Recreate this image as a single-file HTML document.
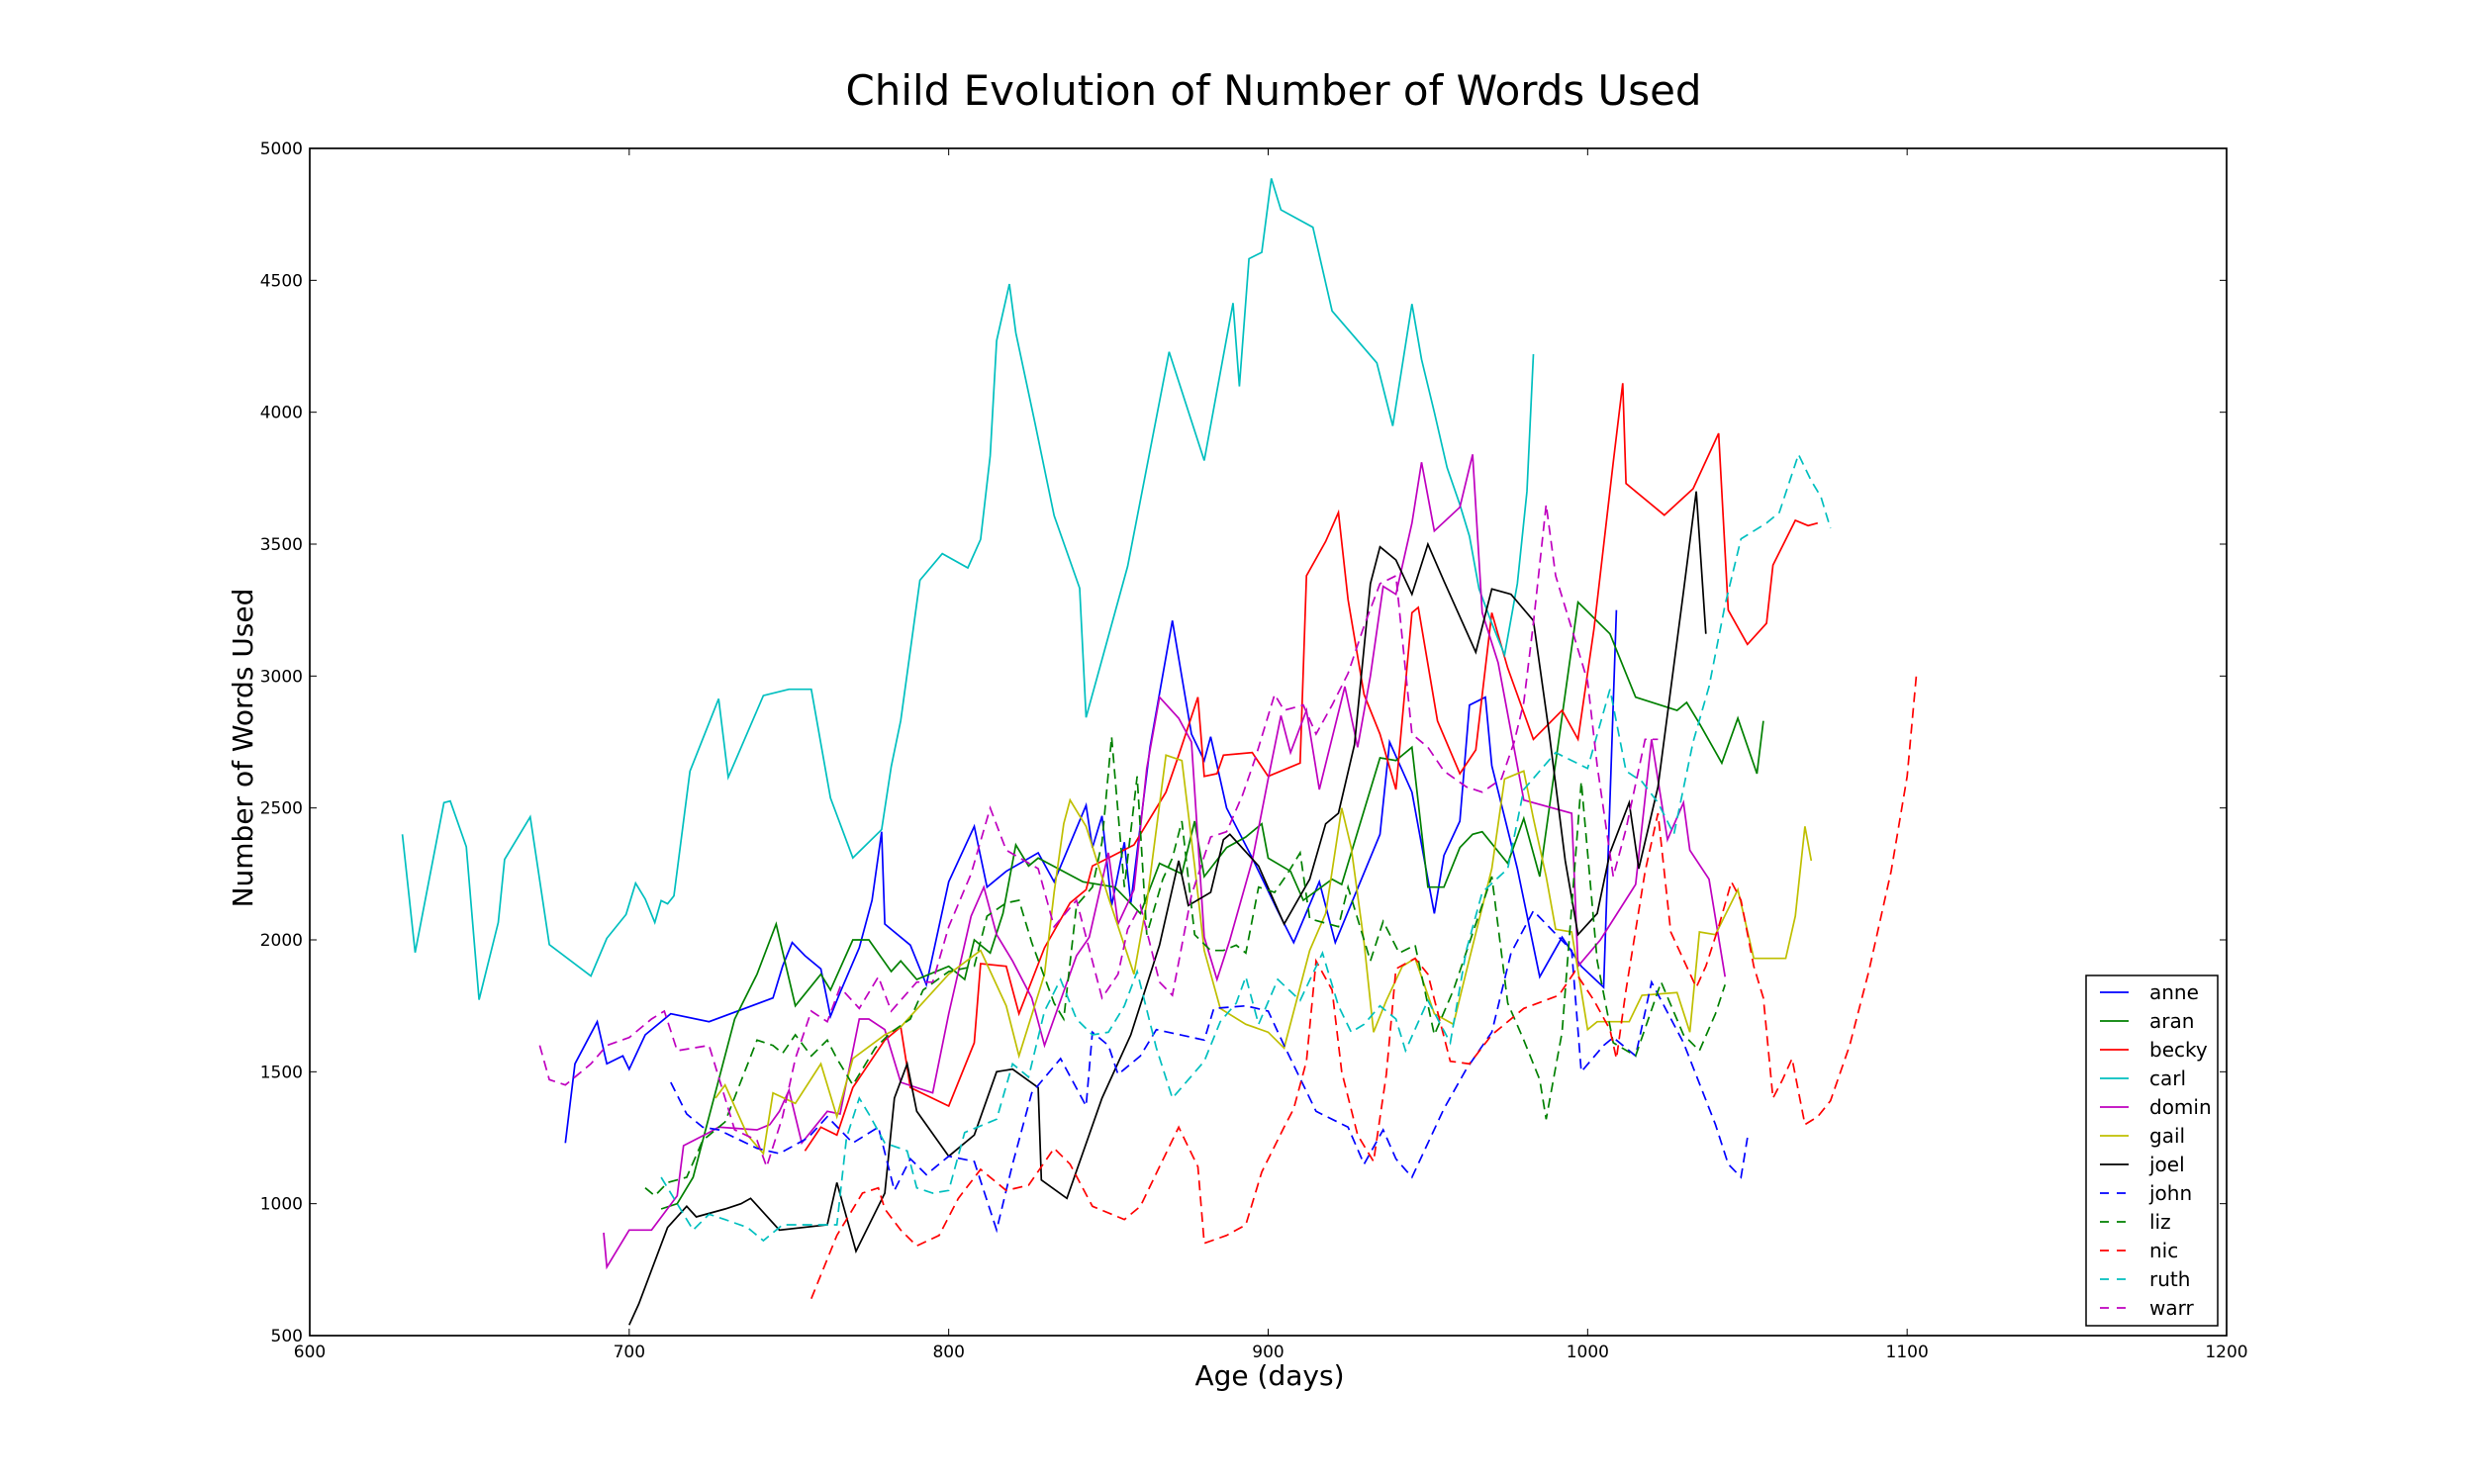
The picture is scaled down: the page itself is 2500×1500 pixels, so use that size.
<!DOCTYPE html>
<html><head><meta charset="utf-8"><style>
html,body{margin:0;padding:0;background:#fff;}
svg{display:block;font-family:"DejaVu Sans","Liberation Sans",sans-serif;}
</style></head><body>
<svg id="chart" width="2500" height="1500" viewBox="0 0 2500 1500">
<rect x="0" y="0" width="2500" height="1500" fill="#fff"/>
<text x="1287" y="106" font-size="42" text-anchor="middle" textLength="865" lengthAdjust="spacingAndGlyphs">Child Evolution of Number of Words Used</text>
<text x="1283" y="1400" font-size="28" text-anchor="middle">Age (days)</text>
<text x="255" y="756" font-size="28" text-anchor="middle" transform="rotate(-90 255 756)">Number of Words Used</text>
<g id="plot"></g>
<g id="axes"></g>
<g id="legend"></g>
</svg>
<script>
const xTicks=[600,700,800,900,1000,1100,1200];
const yTicks=[500,1000,1500,2000,2500,3000,3500,4000,4500,5000];
const names=["anne","aran","becky","carl","domin","gail","joel","john","liz","nic","ruth","warr"];
const colors=["#0000ff","#008000","#ff0000","#00bfbf","#bf00bf","#bfbf00","#000000","#0000ff","#008000","#ff0000","#00bfbf","#bf00bf"];
const dashed=[false,false,false,false,false,false,false,true,true,true,true,true];

const anneAge=[680,683,690,693,698,700,705,713,725,745,748,751,755,760,763,766,772,776,779,780,788,793,800,808,812,818,828,833,843,845,848,851,855,857,863,870,876,880,882,887,895,903,908,916,921,935,938,945,950,952,955,960,963,968,970,978,985,992,998,1005,1009];
const anneVal=[1230,1530,1690,1530,1560,1510,1640,1720,1690,1780,1900,1990,1940,1890,1710,1800,1970,2150,2410,2060,1980,1830,2220,2430,2200,2260,2330,2220,2510,2350,2470,2130,2370,2140,2730,3210,2780,2680,2770,2500,2310,2110,1990,2220,1990,2400,2750,2560,2230,2100,2320,2450,2890,2920,2660,2270,1860,2010,1900,1820,3250];
const aranAge=[710,715,720,733,740,746,752,760,763,770,775,782,785,790,800,805,808,813,817,821,825,828,842,852,860,866,873,877,880,887,893,898,900,907,911,920,923,935,940,945,950,955,960,964,967,975,980,985,997,1007,1015,1028,1031,1035,1042,1047,1053,1055];
const aranVal=[980,1000,1100,1700,1870,2060,1750,1870,1810,2000,2000,1880,1920,1850,1900,1850,2000,1950,2100,2360,2280,2310,2220,2200,2100,2290,2250,2450,2240,2350,2390,2440,2310,2260,2150,2230,2210,2690,2680,2730,2200,2200,2350,2400,2410,2290,2460,2240,3280,3160,2920,2870,2900,2820,2670,2840,2630,2830];
const beckyAge=[755,760,765,770,780,785,788,800,808,810,818,822,830,838,843,845,850,858,868,872,878,880,884,886,895,900,910,912,918,922,925,930,935,940,945,947,953,960,965,970,975,983,992,997,1002,1008,1011,1012,1024,1033,1041,1044,1050,1056,1058,1065,1069,1072];
const beckyVal=[1200,1290,1260,1440,1620,1670,1440,1370,1610,1910,1900,1720,1970,2140,2190,2280,2310,2360,2560,2700,2920,2620,2630,2700,2710,2620,2670,3380,3510,3620,3290,2930,2780,2570,3240,3260,2830,2630,2720,3240,3030,2760,2870,2760,3180,3810,4110,3730,3610,3710,3920,3250,3120,3200,3420,3590,3570,3580];
const carlAge=[629,633,642,644,649,653,659,661,669,675,688,693,699,702,705,708,710,712,714,719,728,731,742,750,757,763,770,779,782,785,791,798,806,810,813,815,819,821,827,833,841,843,856,869,880,889,891,894,898,901,904,914,920,934,939,945,948,952,956,960,963,966,970,974,978,981,983];
const carlVal=[2400,1952,2520,2526,2353,1773,2066,2305,2466,1982,1863,2006,2096,2215,2155,2066,2149,2137,2167,2639,2914,2616,2926,2950,2950,2538,2311,2418,2657,2831,3363,3464,3410,3518,3835,4271,4486,4301,3960,3608,3333,2843,3416,4229,3817,4414,4098,4582,4606,4886,4767,4701,4384,4187,3948,4410,4200,4000,3790,3650,3530,3330,3200,3080,3350,3700,4220];
const dominAge=[692,693,700,707,715,717,725,728,740,744,747,750,754,762,766,772,775,780,785,795,800,807,811,815,820,826,830,840,844,850,853,858,862,866,872,876,880,884,888,895,900,904,907,912,916,924,928,932,936,940,945,948,952,960,964,967,972,980,995,997,1004,1015,1020,1025,1030,1032,1038,1043];
const dominVal=[890,760,900,900,1030,1220,1270,1290,1280,1300,1350,1430,1230,1350,1340,1700,1700,1660,1460,1420,1720,2090,2200,2020,1920,1780,1600,1940,2010,2330,2060,2190,2650,2920,2840,2750,2010,1850,2000,2300,2610,2850,2710,2870,2570,2960,2730,3000,3340,3310,3580,3810,3550,3640,3840,3240,3050,2530,2480,1900,2000,2210,2760,2380,2520,2340,2230,1860];
const gailAge=[727,730,737,742,745,752,760,765,770,780,785,800,810,818,822,830,833,836,838,843,850,858,862,868,873,877,880,885,893,900,905,913,918,923,926,930,933,937,942,946,952,958,962,970,974,980,983,987,990,995,1000,1003,1013,1017,1028,1032,1035,1040,1047,1052,1062,1065,1068,1070];
const gailVal=[1400,1450,1260,1190,1420,1380,1530,1330,1550,1640,1670,1870,1960,1750,1560,1870,2180,2440,2530,2430,2160,1870,2140,2700,2680,2280,1960,1740,1680,1650,1590,1960,2100,2500,2350,1990,1650,1770,1900,1930,1720,1680,1880,2270,2610,2640,2460,2240,2040,2030,1660,1690,1690,1790,1800,1650,2030,2020,2190,1930,1930,2090,2430,2300];
const joelAge=[700,703,712,718,721,730,735,738,747,762,765,771,780,783,787,790,800,808,815,820,828,829,837,848,857,866,872,875,882,886,888,897,905,913,918,922,927,932,935,940,945,950,955,965,970,976,983,988,993,997,1003,1007,1013,1016,1022,1030,1034,1037];
const joelVal=[540,620,910,990,950,980,1000,1020,900,920,1080,820,1040,1400,1530,1350,1180,1260,1500,1510,1440,1090,1020,1400,1640,1980,2300,2130,2180,2380,2400,2280,2060,2230,2440,2480,2740,3350,3490,3440,3310,3500,3360,3090,3330,3310,3210,2780,2300,2020,2100,2330,2520,2270,2580,3320,3700,3160];
const johnAge=[713,718,723,728,740,747,756,762,770,778,783,788,793,800,808,815,820,826,835,843,845,850,853,860,865,880,883,893,900,905,915,925,930,936,940,945,955,962,970,976,983,995,998,1005,1008,1015,1020,1030,1040,1044,1048,1050];
const johnVal=[1460,1340,1290,1280,1210,1190,1250,1330,1230,1290,1050,1170,1110,1180,1160,900,1150,1420,1550,1370,1650,1600,1490,1560,1660,1620,1740,1750,1730,1600,1350,1290,1150,1280,1170,1100,1360,1510,1650,1950,2110,1960,1500,1600,1630,1560,1840,1610,1300,1150,1100,1250];
const lizAge=[705,708,712,718,723,730,740,745,748,752,757,762,765,770,777,782,788,792,800,808,812,818,822,826,833,836,840,845,848,851,855,859,862,867,870,873,877,882,886,890,893,897,902,906,910,913,922,925,932,936,941,946,952,958,965,970,975,980,985,987,992,998,1003,1008,1015,1023,1030,1035,1040,1043];
const lizVal=[1060,1030,1080,1100,1240,1310,1620,1600,1570,1640,1560,1620,1550,1450,1590,1650,1700,1810,1880,1900,2090,2140,2150,1990,1760,1700,2130,2200,2370,2770,2200,2620,2020,2230,2310,2450,2020,1960,1960,1980,1950,2200,2180,2250,2330,2080,2050,2200,1920,2070,1950,1980,1640,1810,2060,2240,1760,1620,1470,1320,1650,2600,1920,1610,1560,1840,1640,1580,1720,1830];
const nicAge=[757,765,773,778,780,785,790,797,803,810,818,825,833,838,845,855,860,866,872,878,880,887,893,898,905,908,912,915,920,923,928,933,937,940,946,950,957,963,970,980,991,996,1002,1007,1009,1012,1018,1022,1026,1034,1037,1041,1045,1048,1052,1055,1058,1061,1064,1068,1072,1076,1082,1088,1095,1100,1103];
const nicVal=[640,880,1040,1060,980,900,840,880,1020,1130,1050,1070,1210,1150,990,940,990,1140,1290,1140,850,880,920,1120,1290,1360,1540,1920,1810,1500,1260,1160,1490,1890,1930,1870,1540,1530,1640,1740,1790,1880,1770,1660,1550,1810,2260,2480,2030,1820,1900,2050,2220,2150,1900,1780,1400,1470,1550,1300,1330,1390,1600,1880,2260,2620,3020];
const ruthAge=[710,715,720,725,730,737,742,748,760,765,768,772,775,780,787,790,795,800,805,815,820,825,830,835,840,845,850,855,859,865,870,880,885,890,893,897,903,910,917,922,926,930,935,940,943,950,957,962,967,975,980,985,990,1000,1007,1012,1017,1022,1027,1033,1038,1043,1048,1056,1060,1066,1070,1073,1076];
const ruthVal=[1100,1000,900,960,940,910,860,920,920,920,1250,1400,1340,1230,1200,1060,1040,1050,1270,1320,1530,1480,1730,1850,1700,1640,1650,1750,1880,1590,1400,1540,1690,1760,1860,1680,1850,1770,1950,1750,1650,1680,1750,1700,1580,1770,1610,1960,2180,2270,2570,2640,2710,2650,2950,2640,2600,2520,2400,2750,2960,3270,3520,3580,3620,3840,3740,3680,3560];
const warrAge=[672,675,680,688,693,700,707,711,715,725,733,740,743,748,752,757,762,766,772,778,782,790,795,800,807,813,818,828,833,840,848,853,856,860,866,870,876,882,887,892,896,902,905,911,915,920,925,930,935,940,945,950,955,962,967,973,977,980,983,987,990,995,1000,1003,1008,1012,1018,1022];
const warrVal=[1600,1470,1450,1530,1600,1630,1700,1730,1580,1600,1280,1240,1140,1330,1550,1730,1690,1820,1740,1860,1730,1840,1840,2050,2250,2500,2340,2270,2050,2150,1780,1870,2040,2130,1840,1790,2170,2390,2410,2550,2690,2930,2870,2890,2780,2890,3010,3190,3350,3380,2780,2730,2640,2580,2560,2610,2750,2900,3200,3650,3380,3180,2980,2660,2240,2420,2760,2760];

const seriesAges=[anneAge,aranAge,beckyAge,carlAge,dominAge,gailAge,joelAge,johnAge,lizAge,nicAge,ruthAge,warrAge];
const seriesVals=[anneVal,aranVal,beckyVal,carlVal,dominVal,gailVal,joelVal,johnVal,lizVal,nicVal,ruthVal,warrVal];

const NS="http://www.w3.org/2000/svg";
const L=313,R=2250,T=150,B=1350;
const X0=600,X1=1200,Y0=500,Y1=5000;
function sx(v){return L+(v-X0)/(X1-X0)*(R-L);}
function sy(v){return B-(v-Y0)/(Y1-Y0)*(B-T);}
function mk(tag,attrs,parent){const e=document.createElementNS(NS,tag);for(const k in attrs)e.setAttribute(k,attrs[k]);parent.appendChild(e);return e;}

const plot=document.getElementById('plot');
const clip=mk('clipPath',{id:'pc'},plot);
mk('rect',{x:L,y:T,width:R-L,height:B-T},clip);
for(let s=0;s<names.length;s++){
  const a=seriesAges[s],v=seriesVals[s];
  let d='';
  for(let i=0;i<a.length;i++)d+=(i?'L':'M')+sx(a[i]).toFixed(1)+' '+sy(v[i]).toFixed(1);
  const p=mk('path',{d:d,fill:'none',stroke:colors[s],'stroke-width':1.7,'clip-path':'url(#pc)'},plot);
  if(dashed[s])p.setAttribute('stroke-dasharray','10 6');
  
  
}

const axes=document.getElementById('axes');
const frame=mk('rect',{x:L,y:T,width:R-L,height:B-T,fill:'none',stroke:'#000','stroke-width':1.7},axes);


for(const t of xTicks){
  const x=sx(t);
  mk('line',{x1:x,y1:B,x2:x,y2:B-7,stroke:'#000','stroke-width':1},axes);
  mk('line',{x1:x,y1:T,x2:x,y2:T+7,stroke:'#000','stroke-width':1},axes);
  const tx=mk('text',{x:x,y:B+22,'font-size':17,'text-anchor':'middle'},axes);
  tx.textContent=t;
  
  
}
for(const t of yTicks){
  const y=sy(t);
  mk('line',{x1:L,y1:y,x2:L+7,y2:y,stroke:'#000','stroke-width':1},axes);
  mk('line',{x1:R,y1:y,x2:R-7,y2:y,stroke:'#000','stroke-width':1},axes);
  const ty=mk('text',{x:306,y:y+6,'font-size':17,'text-anchor':'end'},axes);
  ty.textContent=t;
  
  
}

const leg=document.getElementById('legend');


mk('rect',{x:2108,y:986,width:133,height:354,fill:'#fff',stroke:'#000','stroke-width':1.5},leg);
for(let s=0;s<names.length;s++){
  const y=1003+s*29;
  const g=mk('g',{},leg);
  
  
  const ln=mk('line',{x1:2122,y1:y,x2:2151,y2:y,stroke:colors[s],'stroke-width':1.7},g);
  if(dashed[s])ln.setAttribute('stroke-dasharray','9 8');
  const tx=mk('text',{x:2172,y:y+7,'font-size':20},g);
  tx.textContent=names[s];
}
</script>
</body></html>
